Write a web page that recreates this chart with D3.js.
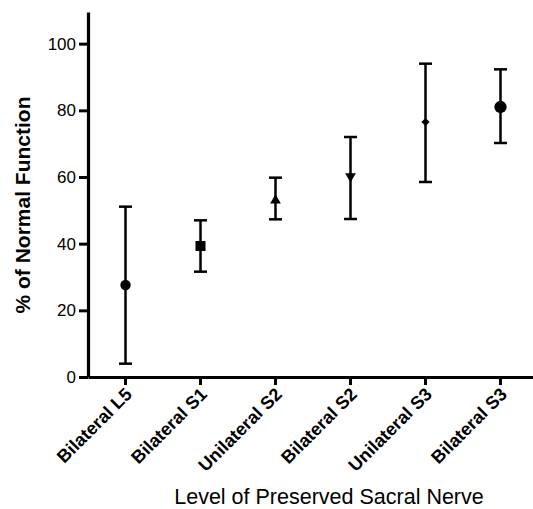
<!DOCTYPE html>
<html>
<head>
<meta charset="utf-8">
<script src="https://cdn.jsdelivr.net/npm/d3@7"></script>
<style>
  body { margin: 0; background: #fff; }
  text { font-family: Arial, "Liberation Sans", sans-serif; fill: #000; }
</style>
</head>
<body>
<div id="chart"></div>
<script>
var categories = ['Bilateral L5', 'Bilateral S1', 'Unilateral S2', 'Bilateral S2', 'Unilateral S3', 'Bilateral S3'];
var means = [27.6, 39.3, 53.0, 60.2, 76.5, 81.0];
var upper = [51.1, 47.0, 59.8, 72.0, 94.0, 92.3];
var lower = [4.0, 31.6, 47.3, 47.4, 58.5, 70.2];
var markers = ['circle', 'square', 'up', 'down', 'diamond', 'bigcircle'];
var yTicks = [0, 20, 40, 60, 80, 100];

var width = 533, height = 509;

var svg = d3.select('#chart').append('svg')
  .attr('width', width)
  .attr('height', height);

var x = d3.scaleBand()
  .domain(categories)
  .range([88, 538]);

var y = d3.scaleLinear()
  .domain([0, 109.5])
  .range([377, 12]);

// y axis
var yAxis = svg.append('g')
  .attr('transform', 'translate(88,0)')
  .call(d3.axisLeft(y).tickValues(yTicks).tickSize(9).tickSizeOuter(0).tickPadding(3));
yAxis.select('.domain').attr('stroke-width', 3.2);
yAxis.selectAll('.tick line').attr('stroke-width', 3);
yAxis.selectAll('.tick text').style('font-size', '17px').attr('fill', '#000');

// x axis
var xAxis = svg.append('g')
  .attr('transform', 'translate(0,377)')
  .call(d3.axisBottom(x).tickSize(8).tickSizeOuter(0).tickFormat(''));
xAxis.select('.domain').attr('stroke-width', 3.2);
xAxis.selectAll('.tick line').attr('stroke-width', 3);

svg.append('g').selectAll('text')
  .data(categories)
  .enter().append('text')
  .attr('transform', function(d) { return 'translate(' + (x(d) + x.bandwidth() / 2 + 3) + ',391) rotate(-45)'; })
  .attr('text-anchor', 'end')
  .attr('dy', '0.35em')
  .style('font-size', '18px')
  .style('font-weight', 'bold')
  .text(function(d) { return d; });

// error bars
var bars = svg.append('g').selectAll('g')
  .data(categories)
  .enter().append('g')
  .attr('transform', function(d) { return 'translate(' + (x(d) + x.bandwidth() / 2) + ',0)'; });

bars.append('line')
  .attr('y1', function(d, i) { return y(upper[i]); })
  .attr('y2', function(d, i) { return y(lower[i]); })
  .attr('stroke', '#000').attr('stroke-width', 2.5);

bars.append('line')
  .attr('x1', -6.5).attr('x2', 6.5)
  .attr('y1', function(d, i) { return y(upper[i]); })
  .attr('y2', function(d, i) { return y(upper[i]); })
  .attr('stroke', '#000').attr('stroke-width', 2.5);

bars.append('line')
  .attr('x1', -6.5).attr('x2', 6.5)
  .attr('y1', function(d, i) { return y(lower[i]); })
  .attr('y2', function(d, i) { return y(lower[i]); })
  .attr('stroke', '#000').attr('stroke-width', 2.5);

var symbolFor = {
  circle: { type: d3.symbolCircle, size: 85, rot: 0 },
  square: { type: d3.symbolSquare, size: 100, rot: 0 },
  up: { type: d3.symbolTriangle, size: 50, rot: 0 },
  down: { type: d3.symbolTriangle, size: 50, rot: 180 },
  diamond: { type: d3.symbolSquare, size: 34, rot: 45 },
  bigcircle: { type: d3.symbolCircle, size: 120, rot: 0 }
};

bars.append('path')
  .attr('d', function(d, i) { var s = symbolFor[markers[i]]; return d3.symbol().type(s.type).size(s.size)(); })
  .attr('transform', function(d, i) { return 'translate(0,' + y(means[i]) + ') rotate(' + symbolFor[markers[i]].rot + ')'; })
  .attr('fill', '#000');

// axis titles
svg.append('text')
  .attr('transform', 'translate(30,205) rotate(-90)')
  .attr('text-anchor', 'middle')
  .style('font-size', '21px')
  .style('font-weight', 'bold')
  .text('% of Normal Function');

svg.append('text')
  .attr('x', 329)
  .attr('y', 504)
  .attr('text-anchor', 'middle')
  .style('font-size', '21.5px')
  .text('Level of Preserved Sacral Nerve');
</script>
</body>
</html>
